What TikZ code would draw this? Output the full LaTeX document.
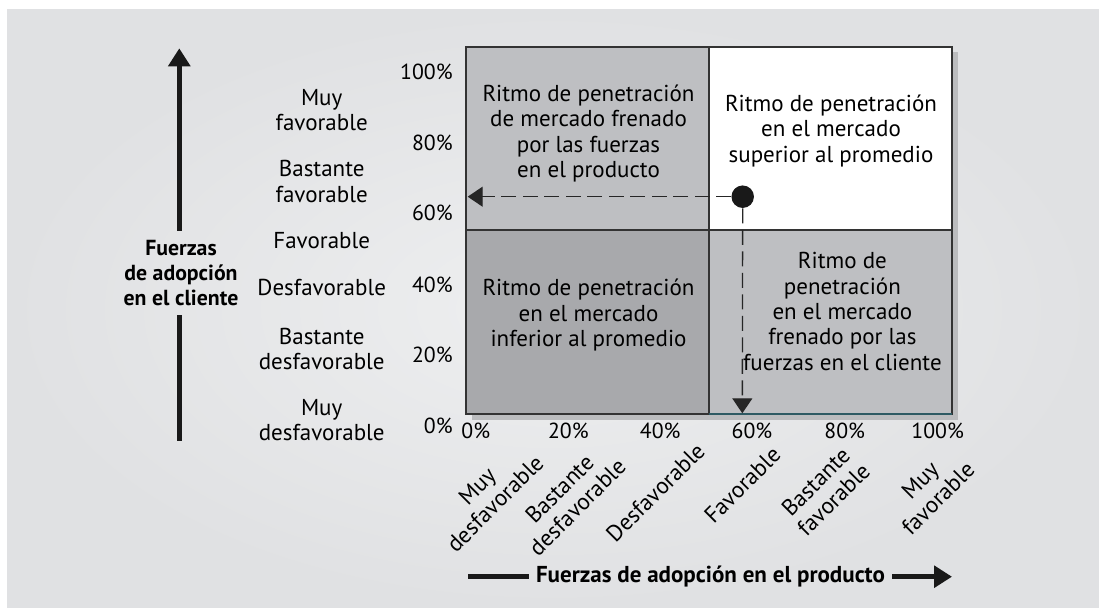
\documentclass[tikz,border=0pt]{standalone}
\usepackage{fontspec}
\setmainfont{PT Sans}
\newfontfamily\narrowbold{PT Sans Bold}
\usetikzlibrary{arrows.meta}
\definecolor{bgcol}{HTML}{E0E1E3}
\definecolor{bglight}{HTML}{EEEFF0}
\definecolor{qlight}{HTML}{BEBFC2}
\definecolor{qdark}{HTML}{A8A9AC}
\definecolor{shadowcol}{HTML}{BBBCBE}
\definecolor{gridcol}{HTML}{333333}
\definecolor{edgecol}{HTML}{2E5A63}

\begin{document}
\begin{tikzpicture}[x=0.02cm,y=-0.02cm,
  every node/.style={inner sep=0pt,font=\fontsize{13.1}{14.4}\selectfont},
  quadtxt/.style={align=center},
  lvl/.style={align=center},
  pct/.style={font=\fontsize{12.4}{14.4}\selectfont},
  axislbl/.style={align=center,font=\fontsize{12.4}{14.4}\selectfont\bfseries},
  axisline/.style={line width=2.6pt,black!90},
  bigtip/.style={-{Triangle[length=0.36cm,width=0.43cm]}},
  guide/.style={line width=0.75pt,black!85,dash pattern=on 0.3cm off 0.13cm,
    -{Triangle[length=0.3cm,width=0.4cm]}},
  dot/.style={circle,fill=black!90,minimum size=0.45cm}]

\useasboundingbox (0,0) rectangle (1099,608);
\fill[white] (0,0) rectangle (1099,608);
\shade[inner color=bglight,outer color=bgcol] (7,10) rectangle (1099,608);

% matrix with shadow
\fill[shadowcol] (472,52) rectangle (958,420);
\fill[qlight] (466,47) rectangle (709,230);
\fill[white] (709,47) rectangle (952,230);
\fill[qdark] (466,230) rectangle (709,414);
\fill[qlight] (709,230) rectangle (952,414);
\draw[gridcol,line width=0.6pt] (709,47) -- (709,414);
\draw[gridcol,line width=0.6pt] (466,230) -- (952,230);
\draw[gridcol,line width=0.85pt] (466,47) rectangle (952,414);
\draw[edgecol,line width=0.85pt] (709,414) -- (952,414);

\node[quadtxt] (slowprod) at (588.5,133.5) {Ritmo de penetración\\de mercado frenado\\por las fuerzas\\en el producto};
\node[quadtxt] (above) at (831,131) {Ritmo de penetración\\en el mercado\\superior al promedio};
\node[quadtxt] (below) at (588.5,315.3) {Ritmo de penetración\\en el mercado\\inferior al promedio};
\node[quadtxt] (slowcli) at (842.4,311.4) {Ritmo de\\penetración\\en el mercado\\frenado por las\\fuerzas en el cliente};

% position and guides
\node[dot] (pos) at (742.7,196.7) {};
\coordinate (posleft) at (467.7,196.7);
\coordinate (posdown) at (742.3,413.3);
\draw[guide] (pos) -- (posleft);
\draw[guide] (pos) -- (posdown);

% scales
\foreach \p/\y in {100/72,80/142.7,60/212.7,40/285,20/355,0/426}
  \node[pct,anchor=east] (ypct\p) at (453,\y) {\p\%};
\foreach \p/\x in {0/475.8,20/568.4,40/660.2,60/752,80/844.7,100/937.7}
  \node[pct] (xpct\p) at (\x,431) {\p\%};

\foreach \t/\y [count=\i] in {{Muy\\favorable}/110.2,{Bastante\\favorable}/181.5,
    Favorable/241,Desfavorable/287,{Bastante\\desfavorable}/348.9,{Muy\\desfavorable}/419.9}
  \node[lvl] (ylvl\i) at (321.7,\y) {\t};
\foreach \t/\x/\y [count=\i] in {{Muy\\desfavorable}/486/494.8,{Bastante\\desfavorable}/568.3/498,
    Desfavorable/655.4/492.5,Favorable/742.3/484.9,{Bastante\\favorable}/824.6/490.8,
    {Muy\\favorable}/929/489.2}
  \node[lvl,rotate=45] (xlvl\i) at (\x,\y) {\t};

% axes
\node[axislbl,inner ysep=0.18cm] (clientlbl) at (181,273) {Fuerzas\\de adopción\\en el cliente};
\coordinate (ytop) at (179.3,48.3);
\coordinate (ybot) at (179.3,440.7);
\draw[axisline,bigtip] (clientlbl.north -| ytop) -- (ytop);
\draw[axisline] (clientlbl.south -| ybot) -- (ybot);

\node[font=\fontsize{13.1}{14.4}\selectfont\narrowbold,inner xsep=0.14cm] (prodlbl) at (710.5,576.7) {Fuerzas de adopción en el producto};
\coordinate (xleft) at (468,576.7);
\coordinate (xright) at (952,576.7);
\draw[axisline] (xleft) -- (prodlbl.west);
\draw[axisline,bigtip] (prodlbl.east) -- (xright);
\end{tikzpicture}
\end{document}
